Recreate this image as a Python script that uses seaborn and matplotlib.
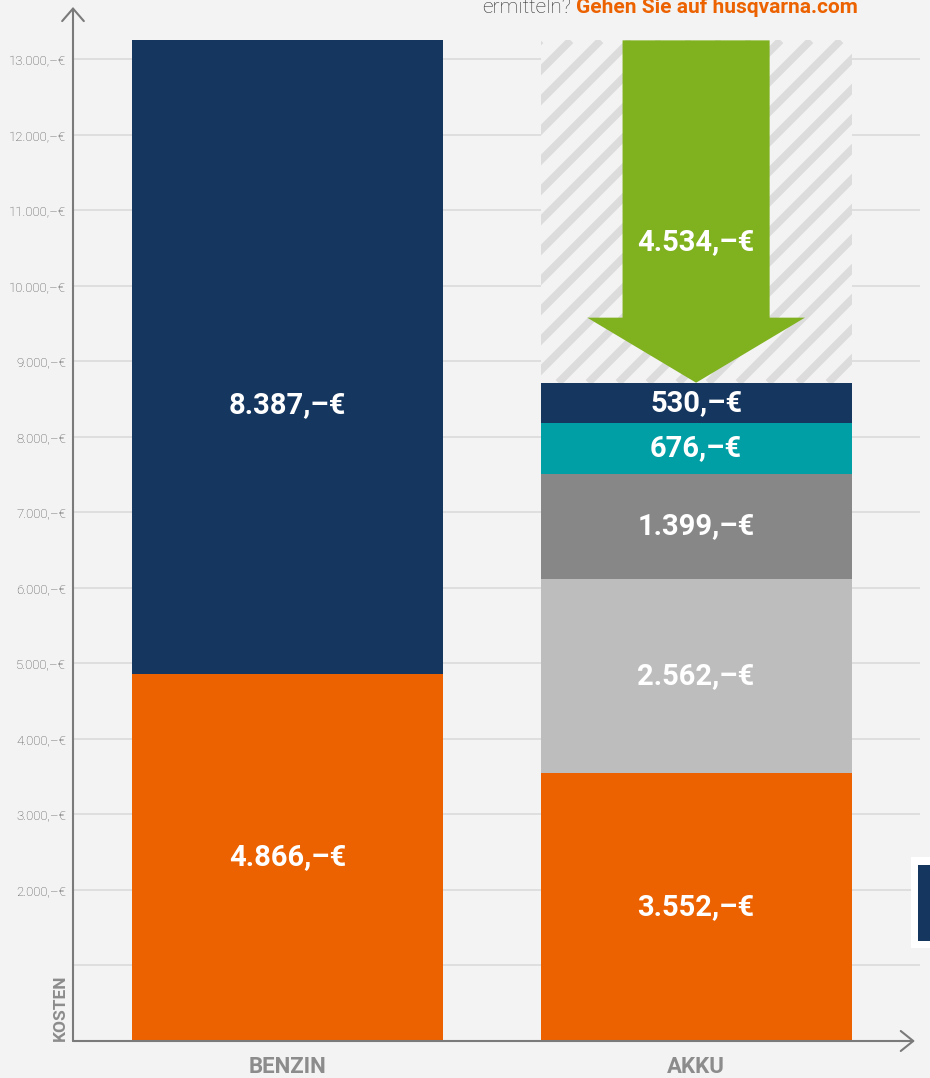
import numpy as np
import pandas as pd
import seaborn as sns
import matplotlib.pyplot as plt
from matplotlib.patches import Rectangle

# values (EUR)
categories = ["BENZIN", "AKKU"]
benzin_parts = [4866, 8387]
akku_parts = [3552, 2562, 1399, 676, 530]
benzin_colors = ["#ec6100", "#15365f"]
akku_colors = ["#ec6100", "#bcbdbc", "#878787", "#009fa6", "#15365f"]
savings = 4534
grid_values = list(range(1000, 14000, 1000))


def euro(v):
    return f"{v:,}".replace(",", ".") + ",–€"


bg = "#f3f3f3"
green = "#80b11f"
axis_grey = "#7a7a7a"

sns.set_theme(style="white")
plt.rcParams["font.family"] = ["Roboto", "DejaVu Sans"]

fig = plt.figure(figsize=(9.3, 10.78), dpi=100, facecolor=bg)
ax = fig.add_axes([73 / 930, 37 / 1078, (920 - 73) / 930, (1041 - 7) / 1078])
ax.set_facecolor(bg)

# stacked bars: draw cumulative totals from the top segment down
segments = []
for cat, parts, cols in [("BENZIN", benzin_parts, benzin_colors),
                         ("AKKU", akku_parts, akku_colors)]:
    tops = np.cumsum(parts)
    for p, top, c in zip(parts, tops, cols):
        segments.append({"cat": cat, "part": p, "top": top, "bottom": top - p, "color": c})
seg = pd.DataFrame(segments)

bar_w = 0.761
benzin_total = sum(benzin_parts)
akku_total = sum(akku_parts)

# hatched "saving" area above the AKKU stack
hatch_df = pd.DataFrame({"cat": ["AKKU"], "top": [benzin_total]})
sns.barplot(data=hatch_df, x="cat", y="top", order=categories, width=bar_w,
            color=bg, edgecolor="none", linewidth=0, ax=ax)
hatch_patch = ax.patches[-1]

for _, row in seg.sort_values("top", ascending=False).iterrows():
    sns.barplot(x=[row["cat"]], y=[row["top"]], order=categories, width=bar_w,
                color=row["color"], saturation=1, edgecolor="none", linewidth=0, ax=ax)

ax.set_xlim(-0.525, 1.548)
ax.set_ylim(0, 13695)

# restrict the hatch background to the part above the AKKU stack
hatch_patch.set_y(akku_total)
hatch_patch.set_height(benzin_total - akku_total)

# diagonal stripes (45 degrees on screen)
fig.canvas.draw()
p0 = ax.transData.transform((0, 0))
p1 = ax.transData.transform((1, 1))
slope = (p1[0] - p0[0]) / (p1[1] - p0[1])
x_left, x_right = 1 - bar_w / 2, 1 + bar_w / 2
pitch = 30 / (p1[0] - p0[0])
gap = benzin_total - akku_total
for x0 in np.arange(x_left - gap / slope - pitch, x_right + pitch, pitch):
    ln, = ax.plot([x0, x0 + gap / slope], [akku_total, benzin_total],
                  color="#dcdcdc", lw=5.5, solid_capstyle="butt", zorder=1.5)
    ln.set_clip_path(hatch_patch)

# green arrow showing the saving
ax.arrow(1, benzin_total, 0, -savings, width=bar_w * 0.473, head_width=bar_w * 0.70,
         head_length=savings * 0.19, length_includes_head=True,
         fc=green, ec="none", zorder=4)
ax.text(1, akku_total + savings * 0.41, euro(savings), ha="center", va="center",
        color="white", fontsize=21, fontweight="bold", zorder=5)

# value labels
for _, row in seg.iterrows():
    xi = categories.index(row["cat"])
    y = row["bottom"] + row["part"] / 2
    if row["cat"] == "BENZIN" and row["bottom"] > 0:
        y = 8420
    ax.text(xi, y, euro(row["part"]), ha="center", va="center",
            color="white", fontsize=21, fontweight="bold", zorder=5)

# grid and ticks
ax.set_yticks(grid_values)
ax.set_yticklabels([""] + [euro(v) for v in grid_values[1:]])
ax.yaxis.grid(True, color="#dedede", lw=1.4)
ax.xaxis.grid(False)
ax.set_axisbelow(True)
ax.tick_params(axis="y", length=0, pad=5, labelsize=9.5, labelcolor="#4a4a4a")
ax.tick_params(axis="x", length=0, pad=11, labelsize=16, labelcolor="#8c8c8c")
for t in ax.get_yticklabels():
    t.set_fontweight("light")
for t in ax.get_xticklabels():
    t.set_fontweight("bold")
ax.set_xlabel("")
ax.set_ylabel("")
for s in ax.spines.values():
    s.set_visible(False)

# axis lines with open arrow heads
ax.annotate("", xy=(0, 1), xytext=(0, 0), xycoords="axes fraction",
            arrowprops=dict(arrowstyle="->,head_length=0.75,head_width=0.65",
                            color=axis_grey, lw=1.5, shrinkA=0, shrinkB=0), zorder=6)
ax.annotate("", xy=(0.994, 0), xytext=(0, 0), xycoords="axes fraction",
            arrowprops=dict(arrowstyle="->,head_length=0.75,head_width=0.6",
                            color=axis_grey, lw=1.5, shrinkA=0, shrinkB=0), zorder=3)

fig.text(60 / 930, 37 / 1078, "KOSTEN", rotation=90, ha="center", va="bottom",
         color="#8c8c8c", fontsize=12.5, fontweight="bold")

# header text (cut off at top of the image)
link = fig.text(858 / 930, 1065 / 1078, "Gehen Sie auf husqvarna.com", ha="right",
                va="baseline", color="#ec6100", fontsize=15, fontweight="bold")
fig.canvas.draw()
link_left = link.get_window_extent().x0
fig.text((link_left - 5) / 930, 1065 / 1078, "ermitteln?", ha="right", va="baseline",
         color="#2e2e2e", fontsize=15, fontweight="light")

# partial box on the right edge
fig.patches.append(Rectangle((911 / 930, 130 / 1078), 19 / 930, 91 / 1078,
                             transform=fig.transFigure, fc="white", ec="none"))
fig.patches.append(Rectangle((918 / 930, 137 / 1078), 12 / 930, 76 / 1078,
                             transform=fig.transFigure, fc="#15365f", ec="none"))

fig.savefig("out.png", dpi=100, facecolor=bg)
